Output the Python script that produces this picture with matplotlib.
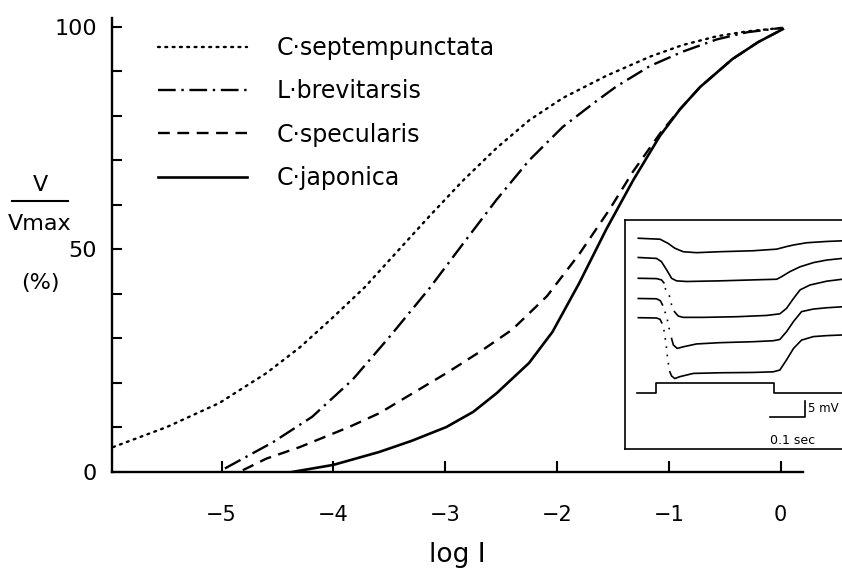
import matplotlib
matplotlib.use("Agg")
import matplotlib.pyplot as plt
from matplotlib.lines import Line2D

plt.rcParams['font.family'] = ['DejaVu Sans']

# ---------------- data ----------------
species = ["C·septempunctata", "L·brevitarsis", "C·specularis", "C·japonica"]

sept_x = [-5.97, -5.49, -5.02, -4.60, -4.30, -4.01, -3.72, -3.43, -3.14, -2.84,
          -2.54, -2.25, -1.95, -1.56, -1.17, -0.88, -0.57, -0.30, 0.02]
sept_y = [5.6, 10.1, 15.5, 22.2, 28.0, 34.6, 41.5, 49.5, 57.5, 65.5,
          72.8, 79.0, 84.0, 89.0, 93.3, 95.9, 97.9, 99.0, 99.8]

brev_x = [-4.97, -4.54, -4.19, -3.83, -3.50, -3.14, -2.84, -2.54, -2.25, -1.95,
          -1.65, -1.47, -1.17, -0.88, -0.57, -0.30, 0.02]
brev_y = [0.8, 6.7, 12.4, 20.7, 30.3, 41.3, 51.3, 61.2, 70.0, 77.5,
          83.3, 86.6, 91.2, 94.4, 97.2, 98.8, 99.8]

spec_x = [-4.81, -4.60, -4.30, -3.86, -3.59, -3.29, -2.99, -2.69, -2.40, -2.09,
          -1.80, -1.53, -1.32, -1.08, -0.90, -0.72, -0.43, -0.20, 0.02]
spec_y = [0.4, 3.0, 5.6, 10.1, 13.2, 17.7, 22.2, 27.0, 32.0, 39.5,
          49.0, 59.0, 67.5, 76.0, 81.5, 86.5, 92.8, 96.6, 99.5]

japo_x = [-4.37, -4.00, -3.59, -3.30, -2.99, -2.75, -2.54, -2.25, -2.04, -1.80,
          -1.56, -1.32, -1.08, -0.90, -0.72, -0.43, -0.20, 0.02]
japo_y = [0.0, 1.6, 4.5, 7.0, 10.1, 13.5, 17.7, 24.5, 31.5, 42.5,
          54.5, 65.5, 75.5, 81.5, 86.5, 92.8, 96.6, 99.5]

x_ticks = [-5, -4, -3, -2, -1, 0]
y_major = [0, 50, 100]
y_minor = [10, 20, 30, 40, 60, 70, 80, 90]

# inset: receptor potentials (time in ms, potential in mV incl. offsets)
tr1_t = [-53, 9, 32, 51, 75, 113, 180, 275, 342, 370, 390, 428, 485, 529]
tr1_v = [59.9, 59.6, 58.3, 56.8, 55.7, 55.4, 55.7, 56.0, 56.5, 57.3, 57.8, 58.5, 58.9, 59.1]

tr2_t = [-53, -1, 13, 28, 42, 56, 85, 180, 275, 342, 356, 380, 409, 447, 485, 529]
tr2_v = [53.9, 53.6, 52.6, 50.0, 47.4, 46.6, 46.4, 46.6, 46.9, 47.1, 47.9, 49.5, 51.0, 52.3, 53.1, 53.6]

tr3_pre_t = [-53, -1, 13, 20]
tr3_pre_v = [47.4, 47.3, 46.9, 46.0]
tr3_fall_t = [23, 32, 37, 42, 47]
tr3_fall_v = [44.3, 42.9, 41.5, 39.1, 37.5]
tr3_post_t = [50, 61, 75, 132, 228, 313, 351, 370, 390, 409, 437, 485, 529]
tr3_post_v = [37.0, 35.6, 35.2, 35.2, 35.4, 35.8, 36.3, 38.0, 41.1, 43.8, 45.3, 46.5, 47.1]

tr4_pre_t = [-53, -1, 10, 16]
tr4_pre_v = [41.1, 41.0, 40.4, 39.1]
tr4_fall_t = [23, 30, 35, 39]
tr4_fall_v = [37.0, 34.4, 31.8, 29.7]
tr4_post_t = [42, 47, 58, 75, 113, 180, 275, 332, 351, 370, 390, 413, 447, 485, 529]
tr4_post_v = [28.6, 26.6, 25.5, 26.0, 26.9, 27.3, 27.6, 27.9, 28.3, 30.7, 33.9, 37.0, 37.8, 38.2, 38.5]

tr5_pre_t = [-53, -1, 9, 14]
tr5_pre_v = [35.1, 35.0, 34.6, 33.5]
tr5_fall_t = [20, 26, 30, 34]
tr5_fall_v = [31.3, 27.1, 22.9, 19.8]
tr5_post_t = [37, 42, 51, 66, 104, 180, 275, 332, 351, 370, 390, 413, 447, 485, 529]
tr5_post_v = [18.2, 16.9, 16.1, 16.7, 17.7, 17.9, 18.0, 18.2, 18.75, 21.9, 25.5, 28.1, 29.2, 29.5, 29.7]

stim_t = [-58, -3, -3, 334, 334, 529]
stim_v = [11.7, 11.7, 14.8, 14.8, 11.7, 11.7]

bar_t = [323, 423, 423]
bar_v = [4.1, 4.1, 9.1]

# ---------------- figure ----------------
W, H = 842, 569
fig = plt.figure(figsize=(W / 100, H / 100), dpi=100)
ax = fig.add_axes([112 / W, (H - 472) / H, (803 - 112) / W, (472 - 18) / H])
ax.set_xlim(-5.98, 0.20)
ax.set_ylim(0, 102)

lw = 1.7
ax.plot(sept_x, sept_y, color='k', lw=lw, linestyle=(0, (0.8, 2.3)),
        dash_capstyle='round', label=species[0])
ax.plot(brev_x, brev_y, color='k', lw=lw, linestyle=(0, (7.5, 2.4, 1.0, 2.4)),
        label=species[1])
ax.plot(spec_x, spec_y, color='k', lw=lw, linestyle=(0, (5.0, 3.2)),
        label=species[2])
ax.plot(japo_x, japo_y, color='k', lw=lw + 0.2, linestyle='-', label=species[3])

for s in ['top', 'right']:
    ax.spines[s].set_visible(False)
for s in ['left', 'bottom']:
    ax.spines[s].set_linewidth(1.7)

ax.set_xticks(x_ticks)
ax.set_xticklabels(["−5", "−4", "−3", "−2", "−1", "0"])
ax.set_yticks(y_major)
ax.set_yticklabels([str(v) for v in y_major])
ax.set_yticks(y_minor, minor=True)
ax.tick_params(axis='x', direction='in', length=8, width=1.5, pad=24, labelsize=15)
ax.tick_params(axis='y', which='major', direction='in', length=7, width=1.5,
               pad=11, labelsize=16)
ax.tick_params(axis='y', which='minor', direction='in', length=7, width=1.5)

leg = ax.legend(loc='upper left', bbox_to_anchor=(158 / W, 1 - 36 / H),
                bbox_transform=fig.transFigure, frameon=False, borderpad=0,
                borderaxespad=0, handlelength=3.77, handletextpad=1.27,
                labelspacing=0.82, fontsize=17)

# axis titles
fig.text(457 / W, 1 - 555 / H, "log I", ha='center', va='center', fontsize=19)
fig.text(40 / W, 1 - 185 / H, "V", ha='center', va='center', fontsize=16)
fig.add_artist(Line2D([12 / W, 68 / W], [1 - 201 / H, 1 - 201 / H],
                      transform=fig.transFigure, color='k', lw=1.5))
fig.text(40 / W, 1 - 224 / H, "Vmax", ha='center', va='center', fontsize=16)
fig.text(40 / W, 1 - 283 / H, "(%)", ha='center', va='center', fontsize=16)

# ---------------- inset ----------------
axin = fig.add_axes([625 / W, (H - 449) / H, (852 - 625) / W, (449 - 220) / H])
axin.set_xlim(-91, 557)
axin.set_ylim(-5.9, 65.6)
axin.set_xticks([])
axin.set_yticks([])
axin.spines['right'].set_visible(False)
for s in ['left', 'top', 'bottom']:
    axin.spines[s].set_linewidth(1.2)

tl = 1.2
axin.plot(tr1_t, tr1_v, color='k', lw=tl)
axin.plot(tr2_t, tr2_v, color='k', lw=tl)
for pre_t, pre_v, f_t, f_v, po_t, po_v in [
        (tr3_pre_t, tr3_pre_v, tr3_fall_t, tr3_fall_v, tr3_post_t, tr3_post_v),
        (tr4_pre_t, tr4_pre_v, tr4_fall_t, tr4_fall_v, tr4_post_t, tr4_post_v),
        (tr5_pre_t, tr5_pre_v, tr5_fall_t, tr5_fall_v, tr5_post_t, tr5_post_v)]:
    axin.plot(pre_t, pre_v, color='k', lw=tl)
    axin.plot(f_t, f_v, color='k', lw=tl, linestyle=(0, (1, 4)))
    axin.plot(po_t, po_v, color='k', lw=tl)
axin.plot(stim_t, stim_v, color='k', lw=tl)
axin.plot(bar_t, bar_v, color='k', lw=tl)
axin.text(432, 6.6, "5 mV", fontsize=8.5, ha='left', va='center')
axin.text(323, -3.2, "0.1 sec", fontsize=9, ha='left', va='center')

fig.savefig("out.png", dpi=100)
